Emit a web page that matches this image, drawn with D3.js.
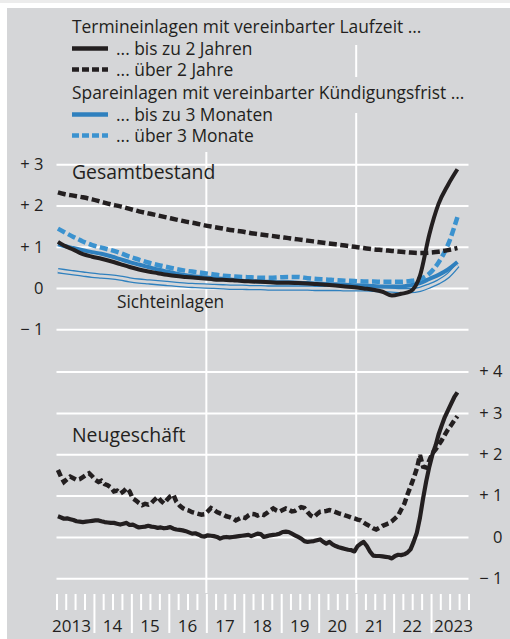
<!DOCTYPE html>
<html>
<head>
<meta charset="utf-8">
<script src="https://cdn.jsdelivr.net/npm/d3@7"></script>
<style>
  body { margin: 0; background: #fff; }
  svg { display: block; }
  text { font-family: "Open Sans", sans-serif; fill: #231f20; }
</style>
</head>
<body>
<div id="viz"></div>
<script>
// ---- data (% p.a.) ----
var yearLabels = ["2013", "14", "15", "16", "17", "18", "19", "20", "21", "22", "2023"];

// top panel (Gesamtbestand): month index from Jan 2013, roughly quarterly
var topMonths = [0, 2, 5, 8, 11, 14, 17, 20, 23, 26, 29, 32, 35, 38, 41, 44, 47, 50, 53, 56, 59, 62,
  65, 68, 71, 74, 77, 80, 83, 86, 89, 92, 95, 98, 101, 104, 107, 110, 113, 116, 119, 122, 125, 128];

var bestandTerminBis2 = [1.12, 1.03, 0.93, 0.82, 0.76, 0.71, 0.65, 0.58, 0.51, 0.45, 0.40, 0.36, 0.32,
  0.29, 0.27, 0.25, 0.23, 0.21, 0.20, 0.19, 0.17, 0.16, 0.15, 0.14, 0.13, 0.13, 0.12, 0.11, 0.10, 0.08,
  0.06, 0.04, 0.02, -0.01, -0.04, -0.09, -0.18, -0.14, -0.08, 0.30, 1.30, 2.04, 2.50, 2.88];
var bestandTerminUeber2 = [2.32, 2.28, 2.24, 2.20, 2.15, 2.09, 2.03, 1.98, 1.92, 1.86, 1.81, 1.76, 1.71,
  1.66, 1.61, 1.57, 1.52, 1.48, 1.44, 1.40, 1.37, 1.33, 1.30, 1.27, 1.24, 1.21, 1.18, 1.15, 1.12, 1.09,
  1.06, 1.03, 1.00, 0.97, 0.94, 0.92, 0.90, 0.88, 0.86, 0.85, 0.86, 0.88, 0.92, 0.97];
var bestandSparBis3 = [1.06, 1.02, 0.97, 0.92, 0.87, 0.83, 0.77, 0.70, 0.63, 0.57, 0.51, 0.45, 0.40,
  0.35, 0.31, 0.28, 0.26, 0.24, 0.22, 0.20, 0.18, 0.17, 0.16, 0.15, 0.14, 0.14, 0.13, 0.12, 0.11, 0.10,
  0.09, 0.08, 0.07, 0.06, 0.05, 0.04, 0.04, 0.04, 0.07, 0.12, 0.22, 0.32, 0.45, 0.63];
var bestandSparUeber3 = [1.44, 1.36, 1.24, 1.13, 1.04, 0.98, 0.92, 0.85, 0.76, 0.69, 0.62, 0.56, 0.51,
  0.46, 0.42, 0.39, 0.36, 0.33, 0.30, 0.28, 0.27, 0.26, 0.25, 0.25, 0.26, 0.27, 0.27, 0.24, 0.22, 0.21,
  0.19, 0.18, 0.17, 0.16, 0.16, 0.15, 0.15, 0.15, 0.17, 0.22, 0.35, 0.62, 1.05, 1.72];
var bestandSicht = [0.42, 0.40, 0.37, 0.34, 0.31, 0.29, 0.27, 0.24, 0.20, 0.17, 0.15, 0.13, 0.11,
  0.09, 0.07, 0.06, 0.05, 0.04, 0.03, 0.02, 0.02, 0.01, 0.01, 0.00, 0.00, 0.00, 0.00, 0.00, -0.01, -0.01,
  -0.01, -0.02, -0.02, -0.02, -0.03, -0.04, -0.05, -0.06, -0.06, -0.03, 0.05, 0.15, 0.30, 0.55];

// bottom panel (Neugeschäft): monthly, Jan 2013 .. Sep 2023
var neuTerminBis2 = [0.50, 0.47, 0.44, 0.45, 0.43, 0.41, 0.38, 0.37, 0.36, 0.37, 0.38, 0.39,
  0.40, 0.40, 0.38, 0.36, 0.35, 0.34, 0.34, 0.32, 0.30, 0.32, 0.34, 0.29,
  0.30, 0.26, 0.23, 0.24, 0.25, 0.27, 0.25, 0.24, 0.22, 0.23, 0.21, 0.22,
  0.24, 0.20, 0.18, 0.17, 0.16, 0.14, 0.11, 0.08, 0.09, 0.06, 0.02, 0.01,
  0.04, 0.03, 0.02, 0.00, -0.04, -0.01, 0.00, -0.01, 0.00, 0.01, 0.02, 0.03,
  0.04, 0.05, 0.02, 0.05, 0.08, 0.07, 0.00, 0.02, 0.04, 0.05, 0.06, 0.08,
  0.12, 0.13, 0.12, 0.08, 0.04, 0.00, -0.04, -0.10, -0.12, -0.11, -0.10, -0.08,
  -0.06, -0.12, -0.16, -0.12, -0.18, -0.22, -0.25, -0.27, -0.29, -0.31, -0.32, -0.35,
  -0.22, -0.16, -0.12, -0.22, -0.35, -0.45, -0.46, -0.46, -0.47, -0.48, -0.49, -0.52,
  -0.46, -0.43, -0.44, -0.42, -0.38, -0.30, -0.12, 0.10, 0.47, 0.93, 1.35, 1.70,
  2.00, 2.22, 2.48, 2.70, 2.90, 3.06, 3.22, 3.38, 3.50];
var neuTerminUeber2 = [1.62, 1.45, 1.33, 1.40, 1.46, 1.42, 1.38, 1.40, 1.45, 1.50, 1.54, 1.47,
  1.38, 1.33, 1.36, 1.28, 1.25, 1.20, 1.10, 1.12, 1.05, 1.10, 1.18, 1.10,
  0.93, 0.88, 0.82, 0.77, 0.80, 0.78, 0.82, 0.90, 0.97, 0.88, 0.81, 0.90,
  0.98, 1.02, 0.85, 0.76, 0.70, 0.66, 0.64, 0.60, 0.58, 0.56, 0.54, 0.55,
  0.62, 0.70, 0.66, 0.60, 0.57, 0.54, 0.50, 0.48, 0.45, 0.40, 0.44, 0.48,
  0.46, 0.52, 0.56, 0.55, 0.52, 0.55, 0.53, 0.58, 0.64, 0.69, 0.64, 0.61,
  0.65, 0.69, 0.66, 0.62, 0.63, 0.68, 0.72, 0.70, 0.60, 0.52, 0.48, 0.55,
  0.61, 0.62, 0.63, 0.65, 0.63, 0.60, 0.57, 0.55, 0.52, 0.50, 0.47, 0.45,
  0.42, 0.40, 0.35, 0.30, 0.26, 0.21, 0.18, 0.22, 0.27, 0.30, 0.33, 0.38,
  0.45, 0.52, 0.66, 0.80, 1.02, 1.22, 1.42, 1.65, 1.98, 1.70, 1.68, 1.85,
  2.03, 2.12, 2.22, 2.34, 2.47, 2.60, 2.70, 2.82, 2.92];

var topTicks = [-1, 0, 1, 2, 3];
var bottomTicks = [-1, 0, 1, 2, 3, 4];

// ---- setup ----
var W = 510, H = 639;
var bg = "#d5d6d8", grid = "#ffffff", ink = "#231f20";
var blue = "#2f80be", blueLight = "#3b92cf";

var svg = d3.select("#viz").append("svg").attr("width", W).attr("height", H);
svg.append("rect").attr("width", W).attr("height", 3).attr("fill", "#ececec");
svg.append("rect").attr("x", 7).attr("y", 8).attr("width", W - 7).attr("height", H - 8).attr("fill", bg);

var x = d3.scaleTime()
  .domain([new Date(2013, 0, 1), new Date(2024, 0, 1)])
  .range([56.5, 468.5]);
var yTop = d3.scaleLinear().domain([-1, 3]).range([329.3, 164.3]);
var yBot = d3.scaleLinear().domain([-1, 4]).range([578.3, 371.6]);

function monthDate(m) { return new Date(2013, m, 15); }
function fmt(v) { return v > 0 ? "+ " + v : v < 0 ? "\u2212 " + (-v) : "0"; }

// vertical white lines at 2017 and 2021
var vlines = [[new Date(2017, 0, 1), 152, 593], [new Date(2021, 0, 1), 45, 77], [new Date(2021, 0, 1), 113, 593]];
svg.selectAll(".vline").data(vlines).enter().append("line")
  .attr("x1", function (d) { return x(d[0]); }).attr("x2", function (d) { return x(d[0]); })
  .attr("y1", function (d) { return d[1]; }).attr("y2", function (d) { return d[2]; })
  .attr("stroke", grid).attr("stroke-width", 2);

// horizontal grids + y labels
var gTop = svg.append("g").attr("transform", "translate(56.5,0)")
  .call(d3.axisLeft(yTop).tickValues(topTicks).tickSize(-412).tickPadding(13).tickFormat(fmt));
var gBot = svg.append("g").attr("transform", "translate(468.5,0)")
  .call(d3.axisRight(yBot).tickValues(bottomTicks).tickSize(-412).tickPadding(0).tickFormat(fmt));
[gTop, gBot].forEach(function (g) {
  g.select(".domain").remove();
  g.selectAll(".tick line").attr("stroke", grid).attr("stroke-width", 2);
  g.selectAll(".tick text").style("font-size", "16.5px").attr("fill", ink)
    .style("font-family", "'Open Sans', sans-serif");
});
gBot.selectAll(".tick text").attr("text-anchor", "end").attr("x", 34);

// x axis: quarter ticks, year ticks long
var quarters = d3.timeMonth.every(3).range(new Date(2013, 0, 1), new Date(2024, 0, 2));
var gx = svg.append("g").attr("transform", "translate(0,594)")
  .call(d3.axisBottom(x).tickValues(quarters).tickSize(16).tickFormat(""));
gx.select(".domain").remove();
gx.selectAll(".tick line").attr("stroke", grid).attr("stroke-width", 2)
  .attr("y2", function (d, i) { return (d.getMonth() === 0 && i > 0 && i < quarters.length - 1) ? 39 : 16; });

svg.selectAll(".year").data(yearLabels).enter().append("text")
  .attr("x", function (d, i) {
    if (i === 0) return x(new Date(2014, 0, 1)) - 3;
    if (i === yearLabels.length - 1) return x(new Date(2023, 0, 1)) + 3;
    return x(new Date(2013 + i, 6, 1));
  })
  .attr("y", 632)
  .attr("text-anchor", function (d, i) { return i === 0 ? "end" : (i === yearLabels.length - 1 ? "start" : "middle"); })
  .style("font-size", "17px")
  .text(function (d) { return d; });

// ---- lines ----
function seriesTop(vals) { return vals.map(function (v, i) { return { d: monthDate(topMonths[i]), v: v }; }); }
function seriesBot(vals) { return vals.map(function (v, i) { return { d: monthDate(i), v: v }; }); }

var lineTop = d3.line().x(function (p) { return x(p.d); }).y(function (p) { return yTop(p.v); }).curve(d3.curveMonotoneX);
var lineBot = d3.line().x(function (p) { return x(p.d); }).y(function (p) { return yBot(p.v); });

// Sichteinlagen: double thin line
svg.append("path").attr("d", lineTop(seriesTop(bestandSicht)))
  .attr("fill", "none").attr("stroke", blue).attr("stroke-width", 5.4);
svg.append("path").attr("d", lineTop(seriesTop(bestandSicht)))
  .attr("fill", "none").attr("stroke", bg).attr("stroke-width", 2.8);

var topLines = [
  { vals: bestandSparBis3, color: blue, dash: null, w: 4 },
  { vals: bestandSparUeber3, color: blueLight, dash: "8,3.5", w: 4.5 },
  { vals: bestandTerminUeber2, color: ink, dash: "8,3.5", w: 4.5 },
  { vals: bestandTerminBis2, color: ink, dash: null, w: 4 }
];
topLines.forEach(function (s) {
  svg.append("path").attr("d", lineTop(seriesTop(s.vals)))
    .attr("fill", "none").attr("stroke", s.color).attr("stroke-width", s.w)
    .attr("stroke-dasharray", s.dash).attr("stroke-linejoin", "round");
});

svg.append("path").attr("d", lineBot(seriesBot(neuTerminUeber2)))
  .attr("fill", "none").attr("stroke", ink).attr("stroke-width", 4.5)
  .attr("stroke-dasharray", "7,3.5");
svg.append("path").attr("d", lineBot(seriesBot(neuTerminBis2)))
  .attr("fill", "none").attr("stroke", ink).attr("stroke-width", 4.2).attr("stroke-linejoin", "round");

// ---- texts ----
svg.append("text").attr("x", 72).attr("y", 179).style("font-size", "19.4px").text("Gesamtbestand");
svg.append("text").attr("x", 72).attr("y", 442).style("font-size", "19.4px").text("Neugeschäft");
svg.append("text").attr("x", 117).attr("y", 308).style("font-size", "17.3px").text("Sichteinlagen");

// ---- legend ----
var legendHeads = [
  { t: "Termineinlagen mit vereinbarter Laufzeit ...", y: 33 },
  { t: "Spareinlagen mit vereinbarter Kündigungsfrist ...", y: 99 }
];
var legendItems = [
  { t: "... bis zu 2 Jahren", y: 55, color: ink, dash: null },
  { t: "... über 2 Jahre", y: 76, color: ink, dash: "7,3" },
  { t: "... bis zu 3 Monaten", y: 121, color: blue, dash: null },
  { t: "... über 3 Monate", y: 142, color: blueLight, dash: "7,3" }
];
svg.selectAll(".lh").data(legendHeads).enter().append("text")
  .attr("x", 72).attr("y", function (d) { return d.y; })
  .style("font-size", "17.4px").text(function (d) { return d.t; });
var li = svg.selectAll(".li").data(legendItems).enter().append("g");
li.append("line").attr("x1", 72).attr("x2", 108)
  .attr("y1", function (d) { return d.y - 6.5; }).attr("y2", function (d) { return d.y - 6.5; })
  .attr("stroke", function (d) { return d.color; }).attr("stroke-width", 4.6)
  .attr("stroke-dasharray", function (d) { return d.dash; });
li.append("text").attr("x", 116).attr("y", function (d) { return d.y; })
  .style("font-size", "17.4px").text(function (d) { return d.t; });
</script>
</body>
</html>
